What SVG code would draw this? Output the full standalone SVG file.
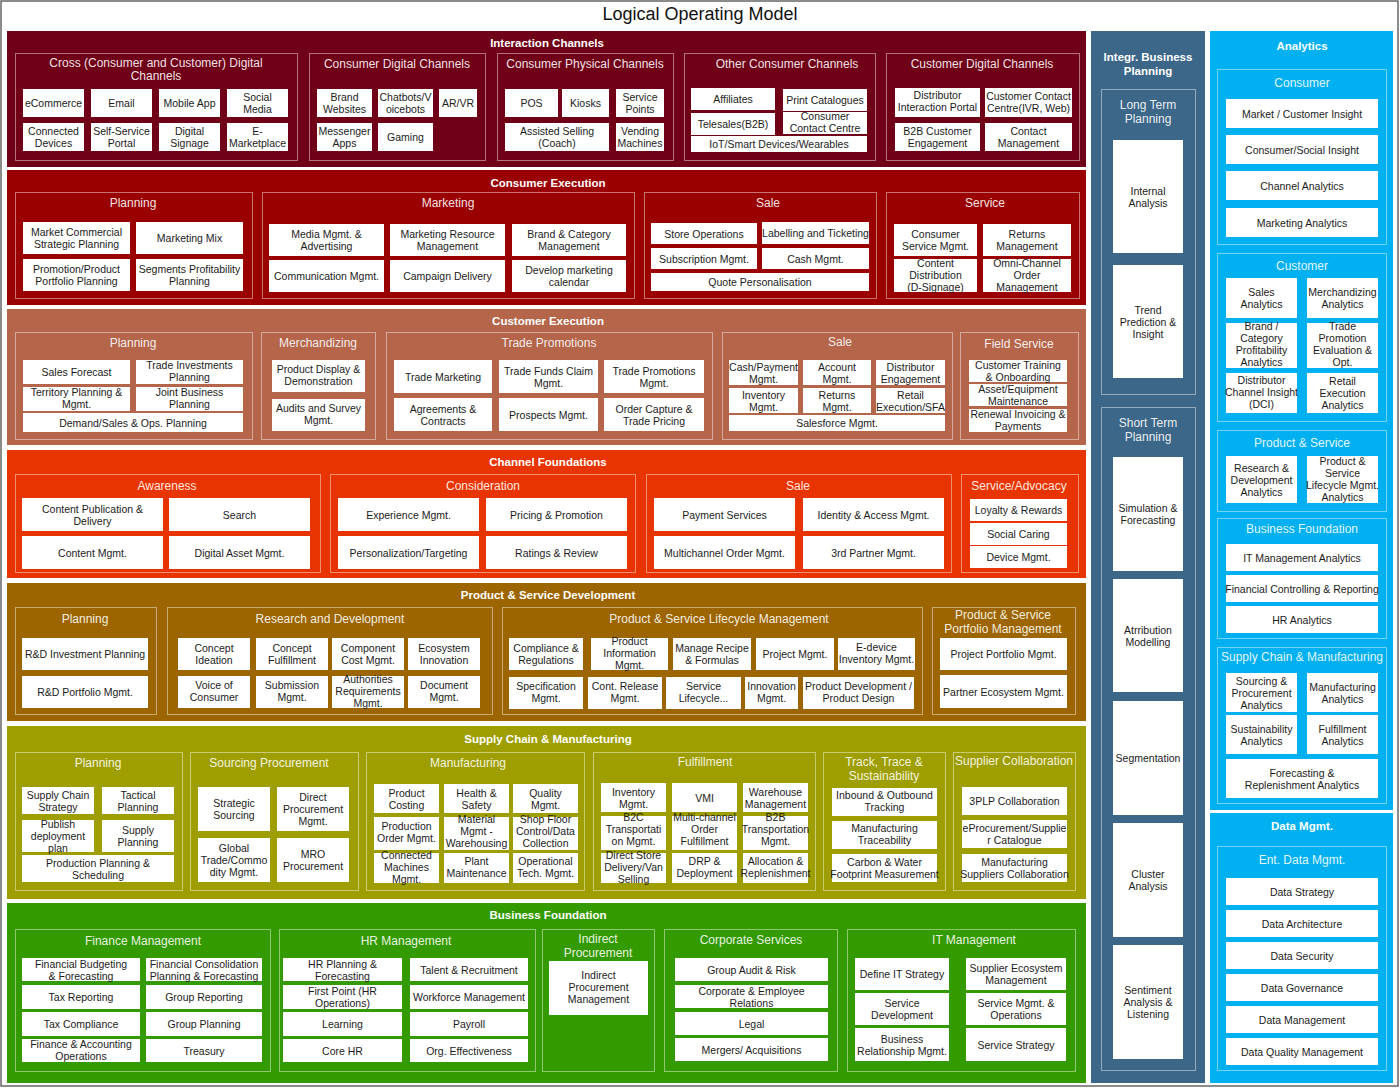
<svg xmlns="http://www.w3.org/2000/svg" width="1400" height="1088" viewBox="0 0 1400 1088">
<style>
text{font-family:"Liberation Sans",Arial,Helvetica,sans-serif}
.w{fill:#fff}
.t{font-size:10.5px;fill:#1b1b1b;text-anchor:middle}
.s{font-size:12px;fill:#fff;fill-opacity:.9;text-anchor:middle}
.b{font-size:11.5px;font-weight:bold;fill:#fff;text-anchor:middle}
.f{fill:none;stroke:#fff;stroke-opacity:.45;stroke-width:1}
</style>
<rect x="0" y="0" width="1400" height="1088" fill="#fff"/>
<rect x="1" y="1" width="1397" height="1085" fill="none" stroke="#666" stroke-width="1.5"/>
<text x="700" y="20" style="font-size:18px;fill:#111;text-anchor:middle">Logical Operating Model</text>
<g id="connectors"/>

<g id="interaction-channels">
<rect x="7" y="31" width="1079" height="136" fill="#700017"/>
<text class="b" x="547" y="47">Interaction Channels</text>
<g id="cross-digital"><rect class="f" x="15.5" y="53.5" width="282" height="107"/><text class="s" x="156" y="67">Cross (Consumer and Customer) Digital<tspan x="156" dy="13">Channels</tspan></text>
<g id="ecommerce"><rect class="w" x="23" y="89" width="61" height="28"/><text class="t" x="53.5" y="107">eCommerce</text></g>
<g id="email"><rect class="w" x="91" y="89" width="61" height="28"/><text class="t" x="121.5" y="107">Email</text></g>
<g id="mobile-app"><rect class="w" x="159" y="89" width="61" height="28"/><text class="t" x="189.5" y="107">Mobile App</text></g>
<g id="social-media"><rect class="w" x="227" y="89" width="61" height="28"/><text class="t" x="257.5" y="101">Social<tspan x="257.5" dy="12">Media</tspan></text></g>
<g id="connected-devices"><rect class="w" x="23" y="123" width="61" height="28"/><text class="t" x="53.5" y="135">Connected<tspan x="53.5" dy="12">Devices</tspan></text></g>
<g id="self-service"><rect class="w" x="91" y="123" width="61" height="28"/><text class="t" x="121.5" y="135">Self-Service<tspan x="121.5" dy="12">Portal</tspan></text></g>
<g id="digital-signage"><rect class="w" x="159" y="123" width="61" height="28"/><text class="t" x="189.5" y="135">Digital<tspan x="189.5" dy="12">Signage</tspan></text></g>
<g id="e-marketplace"><rect class="w" x="227" y="123" width="61" height="28"/><text class="t" x="257.5" y="135">E-<tspan x="257.5" dy="12">Marketplace</tspan></text></g>
</g>
<g id="consumer-digital"><rect class="f" x="309.5" y="53.5" width="176" height="107"/><text class="s" x="397" y="68">Consumer Digital Channels</text>
<g id="brand-websites"><rect class="w" x="317" y="89" width="55" height="28"/><text class="t" x="344.5" y="101">Brand<tspan x="344.5" dy="12">Websites</tspan></text></g>
<g id="chatbots"><rect class="w" x="378" y="89" width="55" height="28"/><text class="t" x="405.5" y="101">Chatbots/V<tspan x="405.5" dy="12">oicebots</tspan></text></g>
<g id="arvr"><rect class="w" x="439" y="89" width="38" height="28"/><text class="t" x="458" y="107">AR/VR</text></g>
<g id="messenger"><rect class="w" x="317" y="123" width="55" height="28"/><text class="t" x="344.5" y="135">Messenger<tspan x="344.5" dy="12">Apps</tspan></text></g>
<g id="gaming"><rect class="w" x="378" y="123" width="55" height="28"/><text class="t" x="405.5" y="141">Gaming</text></g>
</g>
<g id="consumer-physical"><rect class="f" x="497.5" y="53.5" width="176" height="107"/><text class="s" x="585" y="68">Consumer Physical Channels</text>
<g id="pos"><rect class="w" x="505" y="89" width="53" height="28"/><text class="t" x="531.5" y="107">POS</text></g>
<g id="kiosks"><rect class="w" x="562" y="89" width="47" height="28"/><text class="t" x="585.5" y="107">Kiosks</text></g>
<g id="service-points"><rect class="w" x="616" y="89" width="48" height="28"/><text class="t" x="640" y="101">Service<tspan x="640" dy="12">Points</tspan></text></g>
<g id="assisted-selling"><rect class="w" x="505" y="123" width="104" height="28"/><text class="t" x="557" y="135">Assisted Selling<tspan x="557" dy="12">(Coach)</tspan></text></g>
<g id="vending"><rect class="w" x="616" y="123" width="48" height="28"/><text class="t" x="640" y="135">Vending<tspan x="640" dy="12">Machines</tspan></text></g>
</g>
<g id="other-consumer"><rect class="f" x="684.5" y="53.5" width="191" height="107"/><text class="s" x="787" y="68">Other Consumer Channels</text>
<g id="affiliates"><rect class="w" x="691" y="88" width="84" height="22"/><text class="t" x="733" y="103">Affiliates</text></g>
<g id="print-catalogues"><rect class="w" x="783" y="89" width="84" height="22"/><text class="t" x="825" y="104">Print Catalogues</text></g>
<g id="telesales"><rect class="w" x="691" y="113" width="84" height="22"/><text class="t" x="733" y="128">Telesales(B2B)</text></g>
<g id="consumer-contact"><rect class="w" x="783" y="112" width="84" height="22"/><text class="t" x="825" y="120">Consumer<tspan x="825" dy="12">Contact Centre</tspan></text></g>
<g id="iot"><rect class="w" x="691" y="136" width="176" height="16"/><text class="t" x="779" y="147.5">IoT/Smart Devices/Wearables</text></g>
</g>
<g id="customer-digital"><rect class="f" x="886.5" y="53.5" width="193" height="107"/><text class="s" x="982" y="68">Customer Digital Channels</text>
<g id="distributor-portal"><rect class="w" x="895" y="88" width="85" height="29"/><text class="t" x="937.5" y="99">Distributor<tspan x="937.5" dy="12">Interaction Portal</tspan></text></g>
<g id="customer-contact"><rect class="w" x="985" y="88" width="87" height="29"/><text class="t" x="1028.5" y="100">Customer Contact<tspan x="1028.5" dy="12">Centre(IVR, Web)</tspan></text></g>
<g id="b2b-engagement"><rect class="w" x="895" y="123" width="85" height="28"/><text class="t" x="937.5" y="135">B2B Customer<tspan x="937.5" dy="12">Engagement</tspan></text></g>
<g id="contact-mgmt"><rect class="w" x="985" y="123" width="87" height="28"/><text class="t" x="1028.5" y="135">Contact<tspan x="1028.5" dy="12">Management</tspan></text></g>
</g>
</g>

<g id="consumer-execution">
<rect x="7" y="170" width="1079" height="135" fill="#9a0000"/>
<text class="b" x="548" y="187">Consumer Execution</text>
<g id="ce-planning"><rect class="f" x="15.5" y="192.5" width="237" height="106"/><text class="s" x="133" y="207">Planning</text>
<g id="mkt-commercial"><rect class="w" x="23" y="222" width="107" height="32"/><text class="t" x="76.5" y="236">Market Commercial<tspan x="76.5" dy="12">Strategic Planning</tspan></text></g>
<g id="mkt-mix"><rect class="w" x="136" y="222" width="107" height="32"/><text class="t" x="189.5" y="242">Marketing Mix</text></g>
<g id="promo-portfolio"><rect class="w" x="23" y="259" width="107" height="32"/><text class="t" x="76.5" y="273">Promotion/Product<tspan x="76.5" dy="12">Portfolio Planning</tspan></text></g>
<g id="segments"><rect class="w" x="136" y="259" width="107" height="32"/><text class="t" x="189.5" y="273">Segments Profitability<tspan x="189.5" dy="12">Planning</tspan></text></g>
</g>
<g id="ce-marketing"><rect class="f" x="262.5" y="192.5" width="372" height="106"/><text class="s" x="448" y="207">Marketing</text>
<g id="media-mgmt"><rect class="w" x="269" y="224" width="115" height="32"/><text class="t" x="326.5" y="238">Media Mgmt. &amp;<tspan x="326.5" dy="12">Advertising</tspan></text></g>
<g id="mkt-resource"><rect class="w" x="390" y="224" width="115" height="32"/><text class="t" x="447.5" y="238">Marketing Resource<tspan x="447.5" dy="12">Management</tspan></text></g>
<g id="brand-category"><rect class="w" x="512" y="224" width="114" height="32"/><text class="t" x="569" y="238">Brand &amp; Category<tspan x="569" dy="12">Management</tspan></text></g>
<g id="communication"><rect class="w" x="269" y="260" width="115" height="32"/><text class="t" x="326.5" y="280">Communication Mgmt.</text></g>
<g id="campaign"><rect class="w" x="390" y="260" width="115" height="32"/><text class="t" x="447.5" y="280">Campaign Delivery</text></g>
<g id="mkt-calendar"><rect class="w" x="512" y="260" width="114" height="32"/><text class="t" x="569" y="274">Develop marketing<tspan x="569" dy="12">calendar</tspan></text></g>
</g>
<g id="ce-sale"><rect class="f" x="644.5" y="192.5" width="232" height="106"/><text class="s" x="768" y="207">Sale</text>
<g id="store-ops"><rect class="w" x="651" y="223" width="106" height="21"/><text class="t" x="704" y="237.5">Store Operations</text></g>
<g id="labelling"><rect class="w" x="762" y="222" width="107" height="22"/><text class="t" x="815.5" y="236.5">Labelling and Ticketing</text></g>
<g id="subscription"><rect class="w" x="651" y="248" width="106" height="21"/><text class="t" x="704" y="262.5">Subscription Mgmt.</text></g>
<g id="cash-mgmt"><rect class="w" x="762" y="248" width="107" height="21"/><text class="t" x="815.5" y="262.5">Cash Mgmt.</text></g>
<g id="quote"><rect class="w" x="651" y="273" width="218" height="18"/><text class="t" x="760" y="286">Quote Personalisation</text></g>
</g>
<g id="ce-service"><rect class="f" x="886.5" y="192.5" width="193" height="106"/><text class="s" x="985" y="207">Service</text>
<g id="consumer-service"><rect class="w" x="894" y="224" width="83" height="32"/><text class="t" x="935.5" y="238">Consumer<tspan x="935.5" dy="12">Service Mgmt.</tspan></text></g>
<g id="returns-mgmt"><rect class="w" x="983" y="224" width="88" height="32"/><text class="t" x="1027" y="238">Returns<tspan x="1027" dy="12">Management</tspan></text></g>
<g id="content-distribution"><rect class="w" x="894" y="259" width="83" height="33"/><text class="t" x="935.5" y="267">Content<tspan x="935.5" dy="12">Distribution</tspan><tspan x="935.5" dy="12">(D-Signage)</tspan></text></g>
<g id="omni-channel"><rect class="w" x="983" y="259" width="88" height="33"/><text class="t" x="1027" y="267">Omni-Channel<tspan x="1027" dy="12">Order</tspan><tspan x="1027" dy="12">Management</tspan></text></g>
</g>
</g>

<g id="customer-execution">
<rect x="7" y="309" width="1079" height="136" fill="#b5654a"/>
<text class="b" x="548" y="325">Customer Execution</text>
<g id="cu-planning"><rect class="f" x="15.5" y="332.5" width="237" height="107"/><text class="s" x="133" y="347">Planning</text>
<g id="sales-forecast"><rect class="w" x="23" y="360" width="107" height="24"/><text class="t" x="76.5" y="376">Sales Forecast</text></g>
<g id="trade-invest"><rect class="w" x="136" y="360" width="107" height="24"/><text class="t" x="189.5" y="369">Trade Investments<tspan x="189.5" dy="12">Planning</tspan></text></g>
<g id="territory"><rect class="w" x="23" y="387" width="107" height="24"/><text class="t" x="76.5" y="396">Territory Planning &amp;<tspan x="76.5" dy="12">Mgmt.</tspan></text></g>
<g id="joint-business"><rect class="w" x="136" y="387" width="107" height="24"/><text class="t" x="189.5" y="396">Joint Business<tspan x="189.5" dy="12">Planning</tspan></text></g>
<g id="demand-sales"><rect class="w" x="23" y="413" width="220" height="19"/><text class="t" x="133" y="426.5">Demand/Sales &amp; Ops. Planning</text></g>
</g>
<g id="cu-merch"><rect class="f" x="261.5" y="332.5" width="114" height="107"/><text class="s" x="318" y="347">Merchandizing</text>
<g id="product-display"><rect class="w" x="272" y="360" width="93" height="32"/><text class="t" x="318.5" y="373">Product Display &amp;<tspan x="318.5" dy="12">Demonstration</tspan></text></g>
<g id="audits"><rect class="w" x="272" y="399" width="93" height="32"/><text class="t" x="318.5" y="412">Audits and Survey<tspan x="318.5" dy="12">Mgmt.</tspan></text></g>
</g>
<g id="cu-trade"><rect class="f" x="386.5" y="332.5" width="326" height="107"/><text class="s" x="549" y="347">Trade Promotions</text>
<g id="trade-marketing"><rect class="w" x="394" y="360" width="98" height="33"/><text class="t" x="443" y="380.5">Trade Marketing</text></g>
<g id="trade-funds"><rect class="w" x="499" y="360" width="99" height="33"/><text class="t" x="548.5" y="374.5">Trade Funds Claim<tspan x="548.5" dy="12">Mgmt.</tspan></text></g>
<g id="trade-promos"><rect class="w" x="604" y="360" width="100" height="33"/><text class="t" x="654" y="374.5">Trade Promotions<tspan x="654" dy="12">Mgmt.</tspan></text></g>
<g id="agreements"><rect class="w" x="394" y="398" width="98" height="33"/><text class="t" x="443" y="412.5">Agreements &amp;<tspan x="443" dy="12">Contracts</tspan></text></g>
<g id="prospects"><rect class="w" x="499" y="398" width="99" height="33"/><text class="t" x="548.5" y="418.5">Prospects Mgmt.</text></g>
<g id="order-capture"><rect class="w" x="604" y="398" width="100" height="33"/><text class="t" x="654" y="412.5">Order Capture &amp;<tspan x="654" dy="12">Trade Pricing</tspan></text></g>
</g>
<g id="cu-sale"><rect class="f" x="722.5" y="332.5" width="230" height="107"/><text class="s" x="840" y="346">Sale</text>
<g id="cash-payment"><rect class="w" x="729" y="360" width="69" height="25"/><text class="t" x="763.5" y="370.5">Cash/Payment<tspan x="763.5" dy="12">Mgmt.</tspan></text></g>
<g id="account-mgmt"><rect class="w" x="803" y="360" width="68" height="25"/><text class="t" x="837" y="370.5">Account<tspan x="837" dy="12">Mgmt.</tspan></text></g>
<g id="distributor-eng"><rect class="w" x="876" y="360" width="69" height="25"/><text class="t" x="910.5" y="370.5">Distributor<tspan x="910.5" dy="12">Engagement</tspan></text></g>
<g id="inventory-cu"><rect class="w" x="729" y="388" width="69" height="25"/><text class="t" x="763.5" y="399">Inventory<tspan x="763.5" dy="12">Mgmt.</tspan></text></g>
<g id="returns-cu"><rect class="w" x="803" y="388" width="68" height="25"/><text class="t" x="837" y="399">Returns<tspan x="837" dy="12">Mgmt.</tspan></text></g>
<g id="retail-exec"><rect class="w" x="876" y="388" width="69" height="25"/><text class="t" x="910.5" y="399">Retail<tspan x="910.5" dy="12">Execution/SFA</tspan></text></g>
<g id="salesforce"><rect class="w" x="729" y="415" width="216" height="16"/><text class="t" x="837" y="427">Salesforce Mgmt.</text></g>
</g>
<g id="cu-field"><rect class="f" x="960.5" y="332.5" width="118" height="107"/><text class="s" x="1019" y="348">Field Service</text>
<g id="training"><rect class="w" x="969" y="360" width="98" height="22"/><text class="t" x="1018" y="369">Customer Training<tspan x="1018" dy="12">&amp; Onboarding</tspan></text></g>
<g id="asset-maint"><rect class="w" x="969" y="384" width="98" height="22"/><text class="t" x="1018" y="393">Asset/Equipment<tspan x="1018" dy="12">Maintenance</tspan></text></g>
<g id="renewal"><rect class="w" x="969" y="409" width="98" height="23"/><text class="t" x="1018" y="418">Renewal Invoicing &amp;<tspan x="1018" dy="12">Payments</tspan></text></g>
</g>
</g>

<g id="channel-foundations">
<rect x="7" y="450" width="1079" height="128" fill="#e83400"/>
<text class="b" x="548" y="466">Channel Foundations</text>
<g id="cf-awareness"><rect class="f" x="15.5" y="474.5" width="305" height="98"/><text class="s" x="167" y="490">Awareness</text>
<g id="content-pub"><rect class="w" x="22" y="498" width="141" height="33"/><text class="t" x="92.5" y="512.5">Content Publication &amp;<tspan x="92.5" dy="12">Delivery</tspan></text></g>
<g id="search"><rect class="w" x="169" y="498" width="141" height="33"/><text class="t" x="239.5" y="518.5">Search</text></g>
<g id="content-mgmt"><rect class="w" x="22" y="536" width="141" height="33"/><text class="t" x="92.5" y="556.5">Content Mgmt.</text></g>
<g id="digital-asset"><rect class="w" x="169" y="536" width="141" height="33"/><text class="t" x="239.5" y="556.5">Digital Asset Mgmt.</text></g>
</g>
<g id="cf-consideration"><rect class="f" x="330.5" y="474.5" width="305" height="98"/><text class="s" x="483" y="490">Consideration</text>
<g id="experience"><rect class="w" x="338" y="498" width="141" height="33"/><text class="t" x="408.5" y="518.5">Experience Mgmt.</text></g>
<g id="pricing-promo"><rect class="w" x="486" y="498" width="141" height="33"/><text class="t" x="556.5" y="518.5">Pricing &amp; Promotion</text></g>
<g id="personalization"><rect class="w" x="338" y="536" width="141" height="33"/><text class="t" x="408.5" y="556.5">Personalization/Targeting</text></g>
<g id="ratings"><rect class="w" x="486" y="536" width="141" height="33"/><text class="t" x="556.5" y="556.5">Ratings &amp; Review</text></g>
</g>
<g id="cf-sale"><rect class="f" x="646.5" y="474.5" width="305" height="98"/><text class="s" x="798" y="490">Sale</text>
<g id="payment-services"><rect class="w" x="654" y="498" width="141" height="33"/><text class="t" x="724.5" y="518.5">Payment Services</text></g>
<g id="identity"><rect class="w" x="803" y="498" width="141" height="33"/><text class="t" x="873.5" y="518.5">Identity &amp; Access Mgmt.</text></g>
<g id="multichannel-order"><rect class="w" x="654" y="536" width="141" height="33"/><text class="t" x="724.5" y="556.5">Multichannel Order Mgmt.</text></g>
<g id="third-partner"><rect class="w" x="803" y="536" width="141" height="33"/><text class="t" x="873.5" y="556.5">3rd Partner Mgmt.</text></g>
</g>
<g id="cf-service"><rect class="f" x="961.5" y="474.5" width="117" height="98"/><text class="s" x="1019" y="490">Service/Advocacy</text>
<g id="loyalty"><rect class="w" x="970" y="499" width="97" height="22"/><text class="t" x="1018.5" y="514">Loyalty &amp; Rewards</text></g>
<g id="social-caring"><rect class="w" x="970" y="523" width="97" height="22"/><text class="t" x="1018.5" y="538">Social Caring</text></g>
<g id="device-mgmt"><rect class="w" x="970" y="546" width="97" height="22"/><text class="t" x="1018.5" y="561">Device Mgmt.</text></g>
</g>
</g>

<g id="product-service-dev">
<rect x="7" y="583" width="1079" height="138" fill="#9c6500"/>
<text class="b" x="548" y="599">Product &amp; Service Development</text>
<g id="pd-planning"><rect class="f" x="15.5" y="607.5" width="141" height="107"/><text class="s" x="85" y="623">Planning</text>
<g id="rd-invest"><rect class="w" x="22" y="638" width="126" height="32"/><text class="t" x="85" y="658">R&amp;D Investment Planning</text></g>
<g id="rd-portfolio"><rect class="w" x="22" y="676" width="126" height="32"/><text class="t" x="85" y="696">R&amp;D Portfolio Mgmt.</text></g>
</g>
<g id="pd-rd"><rect class="f" x="167.5" y="607.5" width="325" height="107"/><text class="s" x="330" y="623">Research and Development</text>
<g id="concept-ideation"><rect class="w" x="178" y="638" width="72" height="32"/><text class="t" x="214" y="652">Concept<tspan x="214" dy="12">Ideation</tspan></text></g>
<g id="concept-fulfill"><rect class="w" x="256" y="638" width="72" height="32"/><text class="t" x="292" y="652">Concept<tspan x="292" dy="12">Fulfillment</tspan></text></g>
<g id="component-cost"><rect class="w" x="332" y="638" width="72" height="32"/><text class="t" x="368" y="652">Component<tspan x="368" dy="12">Cost Mgmt.</tspan></text></g>
<g id="ecosystem-innov"><rect class="w" x="408" y="638" width="72" height="32"/><text class="t" x="444" y="652">Ecosystem<tspan x="444" dy="12">Innovation</tspan></text></g>
<g id="voice-consumer"><rect class="w" x="178" y="676" width="72" height="32"/><text class="t" x="214" y="689">Voice of<tspan x="214" dy="12">Consumer</tspan></text></g>
<g id="submission"><rect class="w" x="256" y="676" width="72" height="32"/><text class="t" x="292" y="689">Submission<tspan x="292" dy="12">Mgmt.</tspan></text></g>
<g id="authorities"><rect class="w" x="332" y="676" width="72" height="32"/><text class="t" x="368" y="683">Authorities<tspan x="368" dy="12">Requirements</tspan><tspan x="368" dy="12">Mgmt.</tspan></text></g>
<g id="document"><rect class="w" x="408" y="676" width="72" height="32"/><text class="t" x="444" y="689">Document<tspan x="444" dy="12">Mgmt.</tspan></text></g>
</g>
<g id="pd-lifecycle"><rect class="f" x="502.5" y="607.5" width="420" height="107"/><text class="s" x="719" y="623">Product &amp; Service Lifecycle Management</text>
<g id="compliance"><rect class="w" x="509" y="638" width="74" height="32"/><text class="t" x="546" y="652">Compliance &amp;<tspan x="546" dy="12">Regulations</tspan></text></g>
<g id="product-info"><rect class="w" x="591" y="638" width="77" height="32"/><text class="t" x="629.5" y="645">Product<tspan x="629.5" dy="12">Information</tspan><tspan x="629.5" dy="12">Mgmt.</tspan></text></g>
<g id="recipe"><rect class="w" x="673" y="638" width="78" height="32"/><text class="t" x="712" y="652">Manage Recipe<tspan x="712" dy="12">&amp; Formulas</tspan></text></g>
<g id="project-mgmt"><rect class="w" x="756" y="638" width="78" height="32"/><text class="t" x="795" y="658">Project Mgmt.</text></g>
<g id="e-device"><rect class="w" x="838" y="638" width="77" height="32"/><text class="t" x="876.5" y="651">E-device<tspan x="876.5" dy="12">Inventory Mgmt.</tspan></text></g>
<g id="specification"><rect class="w" x="509" y="677" width="74" height="32"/><text class="t" x="546" y="690">Specification<tspan x="546" dy="12">Mgmt.</tspan></text></g>
<g id="cont-release"><rect class="w" x="588" y="677" width="74" height="32"/><text class="t" x="625" y="690">Cont. Release<tspan x="625" dy="12">Mgmt.</tspan></text></g>
<g id="service-lifecycle"><rect class="w" x="666" y="677" width="75" height="32"/><text class="t" x="703.5" y="690">Service<tspan x="703.5" dy="12">Lifecycle...</tspan></text></g>
<g id="innovation"><rect class="w" x="745" y="677" width="53" height="32"/><text class="t" x="771.5" y="690">Innovation<tspan x="771.5" dy="12">Mgmt.</tspan></text></g>
<g id="product-dev"><rect class="w" x="803" y="677" width="111" height="32"/><text class="t" x="858.5" y="690">Product Development /<tspan x="858.5" dy="12">Product Design</tspan></text></g>
</g>
<g id="pd-portfolio"><rect class="f" x="932.5" y="607.5" width="143" height="107"/><text class="s" x="1003" y="619">Product &amp; Service<tspan x="1003" dy="14">Portfolio Management</tspan></text>
<g id="project-portfolio"><rect class="w" x="940" y="638" width="127" height="32"/><text class="t" x="1003.5" y="658">Project Portfolio Mgmt.</text></g>
<g id="partner-ecosystem"><rect class="w" x="940" y="675" width="127" height="33"/><text class="t" x="1003.5" y="695.5">Partner Ecosystem Mgmt.</text></g>
</g>
</g>

<g id="supply-chain">
<rect x="7" y="726" width="1079" height="173" fill="#9e9e00"/>
<text class="b" x="548" y="743">Supply Chain &amp; Manufacturing</text>
<g id="sc-planning"><rect class="f" x="15.5" y="752.5" width="167" height="138"/><text class="s" x="98" y="767">Planning</text>
<g id="sc-strategy"><rect class="w" x="22" y="787" width="72" height="27"/><text class="t" x="58" y="798.5">Supply Chain<tspan x="58" dy="12">Strategy</tspan></text></g>
<g id="tactical"><rect class="w" x="102" y="787" width="72" height="27"/><text class="t" x="138" y="798.5">Tactical<tspan x="138" dy="12">Planning</tspan></text></g>
<g id="publish"><rect class="w" x="22" y="820" width="72" height="32"/><text class="t" x="58" y="828">Publish<tspan x="58" dy="12">deployment</tspan><tspan x="58" dy="12">plan</tspan></text></g>
<g id="supply-planning"><rect class="w" x="102" y="820" width="72" height="32"/><text class="t" x="138" y="834">Supply<tspan x="138" dy="12">Planning</tspan></text></g>
<g id="production-planning"><rect class="w" x="22" y="855" width="152" height="27"/><text class="t" x="98" y="866.5">Production Planning &amp;<tspan x="98" dy="12">Scheduling</tspan></text></g>
</g>
<g id="sc-sourcing"><rect class="f" x="190.5" y="752.5" width="168" height="138"/><text class="s" x="269" y="767">Sourcing Procurement</text>
<g id="strategic-sourcing"><rect class="w" x="198" y="787" width="72" height="44"/><text class="t" x="234" y="807">Strategic<tspan x="234" dy="12">Sourcing</tspan></text></g>
<g id="direct-procurement"><rect class="w" x="277" y="787" width="72" height="44"/><text class="t" x="313" y="801">Direct<tspan x="313" dy="12">Procurement</tspan><tspan x="313" dy="12">Mgmt.</tspan></text></g>
<g id="global-trade"><rect class="w" x="198" y="838" width="72" height="44"/><text class="t" x="234" y="852">Global<tspan x="234" dy="12">Trade/Commo</tspan><tspan x="234" dy="12">dity Mgmt.</tspan></text></g>
<g id="mro"><rect class="w" x="277" y="838" width="72" height="44"/><text class="t" x="313" y="858">MRO<tspan x="313" dy="12">Procurement</tspan></text></g>
</g>
<g id="sc-manufacturing"><rect class="f" x="366.5" y="752.5" width="218" height="138"/><text class="s" x="468" y="767">Manufacturing</text>
<g id="product-costing"><rect class="w" x="374" y="784" width="65" height="29"/><text class="t" x="406.5" y="796.5">Product<tspan x="406.5" dy="12">Costing</tspan></text></g>
<g id="health-safety"><rect class="w" x="444" y="784" width="65" height="29"/><text class="t" x="476.5" y="796.5">Health &amp;<tspan x="476.5" dy="12">Safety</tspan></text></g>
<g id="quality"><rect class="w" x="513" y="784" width="65" height="29"/><text class="t" x="545.5" y="796.5">Quality<tspan x="545.5" dy="12">Mgmt.</tspan></text></g>
<g id="production-order"><rect class="w" x="374" y="817" width="65" height="33"/><text class="t" x="406.5" y="830">Production<tspan x="406.5" dy="12">Order Mgmt.</tspan></text></g>
<g id="material-mgmt"><rect class="w" x="444" y="817" width="65" height="33"/><text class="t" x="476.5" y="823">Material<tspan x="476.5" dy="12">Mgmt -</tspan><tspan x="476.5" dy="12">Warehousing</tspan></text></g>
<g id="shop-floor"><rect class="w" x="513" y="817" width="65" height="33"/><text class="t" x="545.5" y="823">Shop Floor<tspan x="545.5" dy="12">Control/Data</tspan><tspan x="545.5" dy="12">Collection</tspan></text></g>
<g id="connected-machines"><rect class="w" x="374" y="853" width="65" height="30"/><text class="t" x="406.5" y="859">Connected<tspan x="406.5" dy="12">Machines</tspan><tspan x="406.5" dy="12">Mgmt.</tspan></text></g>
<g id="plant-maint"><rect class="w" x="444" y="853" width="65" height="30"/><text class="t" x="476.5" y="865">Plant<tspan x="476.5" dy="12">Maintenance</tspan></text></g>
<g id="operational-tech"><rect class="w" x="513" y="853" width="65" height="30"/><text class="t" x="545.5" y="865">Operational<tspan x="545.5" dy="12">Tech. Mgmt.</tspan></text></g>
</g>
<g id="sc-fulfillment"><rect class="f" x="593.5" y="752.5" width="222" height="138"/><text class="s" x="705" y="766">Fulfillment</text>
<g id="inventory-sc"><rect class="w" x="601" y="783" width="65" height="29"/><text class="t" x="633.5" y="795.5">Inventory<tspan x="633.5" dy="12">Mgmt.</tspan></text></g>
<g id="vmi"><rect class="w" x="672" y="783" width="65" height="29"/><text class="t" x="704.5" y="801.5">VMI</text></g>
<g id="warehouse"><rect class="w" x="743" y="783" width="65" height="29"/><text class="t" x="775.5" y="795.5">Warehouse<tspan x="775.5" dy="12">Management</tspan></text></g>
<g id="b2c-transport"><rect class="w" x="601" y="816" width="65" height="34"/><text class="t" x="633.5" y="821">B2C<tspan x="633.5" dy="12">Transportati</tspan><tspan x="633.5" dy="12">on Mgmt.</tspan></text></g>
<g id="multichannel-fulfill"><rect class="w" x="672" y="816" width="65" height="34"/><text class="t" x="704.5" y="821">Multi-channel<tspan x="704.5" dy="12">Order</tspan><tspan x="704.5" dy="12">Fulfillment</tspan></text></g>
<g id="b2b-transport"><rect class="w" x="743" y="816" width="65" height="34"/><text class="t" x="775.5" y="821">B2B<tspan x="775.5" dy="12">Transportation</tspan><tspan x="775.5" dy="12">Mgmt.</tspan></text></g>
<g id="direct-store"><rect class="w" x="601" y="853" width="65" height="30"/><text class="t" x="633.5" y="859">Direct Store<tspan x="633.5" dy="12">Delivery/Van</tspan><tspan x="633.5" dy="12">Selling</tspan></text></g>
<g id="drp"><rect class="w" x="672" y="853" width="65" height="30"/><text class="t" x="704.5" y="865">DRP &amp;<tspan x="704.5" dy="12">Deployment</tspan></text></g>
<g id="allocation"><rect class="w" x="743" y="853" width="65" height="30"/><text class="t" x="775.5" y="865">Allocation &amp;<tspan x="775.5" dy="12">Replenishment</tspan></text></g>
</g>
<g id="sc-track"><rect class="f" x="823.5" y="752.5" width="122" height="138"/><text class="s" x="884" y="766">Track, Trace &amp;<tspan x="884" dy="14">Sustainability</tspan></text>
<g id="inbound-outbound"><rect class="w" x="832" y="788" width="105" height="28"/><text class="t" x="884.5" y="799">Inbound &amp; Outbound<tspan x="884.5" dy="12">Tracking</tspan></text></g>
<g id="mfg-trace"><rect class="w" x="832" y="821" width="105" height="28"/><text class="t" x="884.5" y="832">Manufacturing<tspan x="884.5" dy="12">Traceability</tspan></text></g>
<g id="carbon-water"><rect class="w" x="832" y="854" width="105" height="28"/><text class="t" x="884.5" y="866">Carbon &amp; Water<tspan x="884.5" dy="12">Footprint Measurement</tspan></text></g>
</g>
<g id="sc-supplier"><rect class="f" x="953.5" y="752.5" width="122" height="138"/><text class="s" x="1014" y="765">Supplier Collaboration</text>
<g id="3plp"><rect class="w" x="962" y="787" width="105" height="28"/><text class="t" x="1014.5" y="805">3PLP Collaboration</text></g>
<g id="eprocurement"><rect class="w" x="962" y="820" width="105" height="28"/><text class="t" x="1014.5" y="832">eProcurement/Supplie<tspan x="1014.5" dy="12">r Catalogue</tspan></text></g>
<g id="mfg-suppliers"><rect class="w" x="962" y="854" width="105" height="28"/><text class="t" x="1014.5" y="866">Manufacturing<tspan x="1014.5" dy="12">Suppliers Collaboration</tspan></text></g>
</g>
</g>

<g id="business-foundation">
<rect x="7" y="903" width="1079" height="180" fill="#339a00"/>
<text class="b" x="548" y="919">Business Foundation</text>
<g id="bf-finance"><rect class="f" x="15.5" y="929.5" width="255" height="142"/><text class="s" x="143" y="945">Finance Management</text>
<g id="fin-budget"><rect class="w" x="22" y="958" width="118" height="23"/><text class="t" x="81" y="967.5">Financial Budgeting<tspan x="81" dy="12">&amp; Forecasting</tspan></text></g>
<g id="fin-consol"><rect class="w" x="146" y="958" width="116" height="23"/><text class="t" x="204" y="967.5">Financial Consolidation<tspan x="204" dy="12">Planning &amp; Forecasting</tspan></text></g>
<g id="tax-reporting"><rect class="w" x="22" y="985" width="118" height="24"/><text class="t" x="81" y="1001">Tax Reporting</text></g>
<g id="group-reporting"><rect class="w" x="146" y="985" width="116" height="24"/><text class="t" x="204" y="1001">Group Reporting</text></g>
<g id="tax-compliance"><rect class="w" x="22" y="1012" width="118" height="24"/><text class="t" x="81" y="1028">Tax Compliance</text></g>
<g id="group-planning"><rect class="w" x="146" y="1012" width="116" height="24"/><text class="t" x="204" y="1028">Group Planning</text></g>
<g id="fin-accounting"><rect class="w" x="22" y="1039" width="118" height="23"/><text class="t" x="81" y="1047.5">Finance &amp; Accounting<tspan x="81" dy="12">Operations</tspan></text></g>
<g id="treasury"><rect class="w" x="146" y="1039" width="116" height="23"/><text class="t" x="204" y="1054.5">Treasury</text></g>
</g>
<g id="bf-hr"><rect class="f" x="279.5" y="929.5" width="256" height="142"/><text class="s" x="406" y="945">HR Management</text>
<g id="hr-planning"><rect class="w" x="283" y="958" width="119" height="23"/><text class="t" x="342.5" y="967.5">HR Planning &amp;<tspan x="342.5" dy="12">Forecasting</tspan></text></g>
<g id="talent"><rect class="w" x="410" y="958" width="118" height="23"/><text class="t" x="469" y="973.5">Talent &amp; Recruitment</text></g>
<g id="first-point"><rect class="w" x="283" y="985" width="119" height="24"/><text class="t" x="342.5" y="995">First Point (HR<tspan x="342.5" dy="12">Operations)</tspan></text></g>
<g id="workforce"><rect class="w" x="410" y="985" width="118" height="24"/><text class="t" x="469" y="1001">Workforce Management</text></g>
<g id="learning"><rect class="w" x="283" y="1012" width="119" height="24"/><text class="t" x="342.5" y="1028">Learning</text></g>
<g id="payroll"><rect class="w" x="410" y="1012" width="118" height="24"/><text class="t" x="469" y="1028">Payroll</text></g>
<g id="core-hr"><rect class="w" x="283" y="1039" width="119" height="23"/><text class="t" x="342.5" y="1054.5">Core HR</text></g>
<g id="org-effect"><rect class="w" x="410" y="1039" width="118" height="23"/><text class="t" x="469" y="1054.5">Org. Effectiveness</text></g>
</g>
<g id="bf-indirect"><rect class="f" x="542.5" y="929.5" width="112" height="142"/><text class="s" x="598" y="943">Indirect<tspan x="598" dy="14">Procurement</tspan></text>
<g id="indirect-mgmt"><rect class="w" x="549" y="961" width="99" height="54"/><text class="t" x="598.5" y="979">Indirect<tspan x="598.5" dy="12">Procurement</tspan><tspan x="598.5" dy="12">Management</tspan></text></g>
</g>
<g id="bf-corporate"><rect class="f" x="664.5" y="929.5" width="173" height="142"/><text class="s" x="751" y="944">Corporate Services</text>
<g id="group-audit"><rect class="w" x="675" y="958" width="153" height="23"/><text class="t" x="751.5" y="973.5">Group Audit &amp; Risk</text></g>
<g id="corp-relations"><rect class="w" x="675" y="985" width="153" height="23"/><text class="t" x="751.5" y="994.5">Corporate &amp; Employee<tspan x="751.5" dy="12">Relations</tspan></text></g>
<g id="legal"><rect class="w" x="675" y="1012" width="153" height="23"/><text class="t" x="751.5" y="1027.5">Legal</text></g>
<g id="mergers"><rect class="w" x="675" y="1038" width="153" height="23"/><text class="t" x="751.5" y="1053.5">Mergers/ Acquisitions</text></g>
</g>
<g id="bf-it"><rect class="f" x="847.5" y="929.5" width="228" height="142"/><text class="s" x="974" y="944">IT Management</text>
<g id="it-strategy"><rect class="w" x="855" y="958" width="94" height="32"/><text class="t" x="902" y="978">Define IT Strategy</text></g>
<g id="supplier-eco"><rect class="w" x="966" y="958" width="100" height="32"/><text class="t" x="1016" y="972">Supplier Ecosystem<tspan x="1016" dy="12">Management</tspan></text></g>
<g id="service-dev"><rect class="w" x="855" y="993" width="94" height="32"/><text class="t" x="902" y="1007">Service<tspan x="902" dy="12">Development</tspan></text></g>
<g id="service-ops"><rect class="w" x="966" y="993" width="100" height="32"/><text class="t" x="1016" y="1007">Service Mgmt. &amp;<tspan x="1016" dy="12">Operations</tspan></text></g>
<g id="brm"><rect class="w" x="855" y="1028" width="94" height="33"/><text class="t" x="902" y="1042.5">Business<tspan x="902" dy="12">Relationship Mgmt.</tspan></text></g>
<g id="service-strategy"><rect class="w" x="966" y="1028" width="100" height="33"/><text class="t" x="1016" y="1048.5">Service Strategy</text></g>
</g>
</g>

<g id="integr-business-planning">
<rect x="1091" y="31" width="114" height="1052" fill="#3c6789"/>
<text class="b" x="1148" y="61">Integr. Business<tspan x="1148" dy="14">Planning</tspan></text>
<g id="long-term"><rect class="f" x="1101.5" y="89.5" width="94" height="305"/><text class="s" x="1148" y="109">Long Term<tspan x="1148" dy="14">Planning</tspan></text>
<g id="internal-analysis"><rect class="w" x="1113" y="140" width="70" height="113"/><text class="t" x="1148" y="194.5">Internal<tspan x="1148" dy="12">Analysis</tspan></text></g>
<g id="trend-prediction"><rect class="w" x="1113" y="265" width="70" height="113"/><text class="t" x="1148" y="313.5">Trend<tspan x="1148" dy="12">Prediction &amp;</tspan><tspan x="1148" dy="12">Insight</tspan></text></g>
</g>
<g id="short-term"><rect class="f" x="1101.5" y="407.5" width="94" height="663"/><text class="s" x="1148" y="427">Short Term<tspan x="1148" dy="14">Planning</tspan></text>
<g id="simulation"><rect class="w" x="1113" y="457" width="70" height="114"/><text class="t" x="1148" y="512">Simulation &amp;<tspan x="1148" dy="12">Forecasting</tspan></text></g>
<g id="attribution"><rect class="w" x="1113" y="579" width="70" height="113"/><text class="t" x="1148" y="633.5">Atrribution<tspan x="1148" dy="12">Modelling</tspan></text></g>
<g id="segmentation"><rect class="w" x="1113" y="701" width="70" height="114"/><text class="t" x="1148" y="762">Segmentation</text></g>
<g id="cluster"><rect class="w" x="1113" y="823" width="70" height="114"/><text class="t" x="1148" y="878">Cluster<tspan x="1148" dy="12">Analysis</tspan></text></g>
<g id="sentiment"><rect class="w" x="1113" y="945" width="70" height="114"/><text class="t" x="1148" y="994">Sentiment<tspan x="1148" dy="12">Analysis &amp;</tspan><tspan x="1148" dy="12">Listening</tspan></text></g>
</g>
</g>

<g id="analytics">
<rect x="1210" y="31" width="183" height="779" fill="#00b0f0"/>
<text class="b" x="1302" y="50">Analytics</text>
<g id="an-consumer"><rect class="f" x="1217.5" y="69.5" width="169" height="175"/><text class="s" x="1302" y="87">Consumer</text>
<g id="market-insight"><rect class="w" x="1226" y="99" width="152" height="29"/><text class="t" x="1302" y="117.5">Market / Customer Insight</text></g>
<g id="social-insight"><rect class="w" x="1226" y="135" width="152" height="29"/><text class="t" x="1302" y="153.5">Consumer/Social Insight</text></g>
<g id="channel-analytics"><rect class="w" x="1226" y="171" width="152" height="29"/><text class="t" x="1302" y="189.5">Channel Analytics</text></g>
<g id="marketing-analytics"><rect class="w" x="1226" y="208" width="152" height="29"/><text class="t" x="1302" y="226.5">Marketing Analytics</text></g>
</g>
<g id="an-customer"><rect class="f" x="1217.5" y="253.5" width="169" height="168"/><text class="s" x="1302" y="270">Customer</text>
<g id="sales-analytics"><rect class="w" x="1226" y="278" width="71" height="40"/><text class="t" x="1261.5" y="296">Sales<tspan x="1261.5" dy="12">Analytics</tspan></text></g>
<g id="merch-analytics"><rect class="w" x="1307" y="278" width="71" height="40"/><text class="t" x="1342.5" y="296">Merchandizing<tspan x="1342.5" dy="12">Analytics</tspan></text></g>
<g id="brand-profit"><rect class="w" x="1226" y="323" width="71" height="45"/><text class="t" x="1261.5" y="330">Brand /<tspan x="1261.5" dy="12">Category</tspan><tspan x="1261.5" dy="12">Profitability</tspan><tspan x="1261.5" dy="12">Analytics</tspan></text></g>
<g id="trade-eval"><rect class="w" x="1307" y="323" width="71" height="45"/><text class="t" x="1342.5" y="330">Trade<tspan x="1342.5" dy="12">Promotion</tspan><tspan x="1342.5" dy="12">Evaluation &amp;</tspan><tspan x="1342.5" dy="12">Opt.</tspan></text></g>
<g id="dci"><rect class="w" x="1226" y="373" width="71" height="40"/><text class="t" x="1261.5" y="384">Distributor<tspan x="1261.5" dy="12">Channel Insight</tspan><tspan x="1261.5" dy="12">(DCI)</tspan></text></g>
<g id="retail-analytics"><rect class="w" x="1307" y="373" width="71" height="40"/><text class="t" x="1342.5" y="385">Retail<tspan x="1342.5" dy="12">Execution</tspan><tspan x="1342.5" dy="12">Analytics</tspan></text></g>
</g>
<g id="an-product"><rect class="f" x="1217.5" y="430.5" width="169" height="81"/><text class="s" x="1302" y="447">Product &amp; Service</text>
<g id="rd-analytics"><rect class="w" x="1226" y="456" width="71" height="47"/><text class="t" x="1261.5" y="471.5">Research &amp;<tspan x="1261.5" dy="12">Development</tspan><tspan x="1261.5" dy="12">Analytics</tspan></text></g>
<g id="lifecycle-analytics"><rect class="w" x="1307" y="456" width="71" height="47"/><text class="t" x="1342.5" y="465">Product &amp;<tspan x="1342.5" dy="12">Service</tspan><tspan x="1342.5" dy="12">Lifecycle Mgmt.</tspan><tspan x="1342.5" dy="12">Analytics</tspan></text></g>
</g>
<g id="an-bf"><rect class="f" x="1217.5" y="518.5" width="169" height="120"/><text class="s" x="1302" y="533">Business  Foundation</text>
<g id="it-analytics"><rect class="w" x="1226" y="544" width="152" height="27"/><text class="t" x="1302" y="561.5">IT Management Analytics</text></g>
<g id="fin-analytics"><rect class="w" x="1226" y="575" width="152" height="27"/><text class="t" x="1302" y="592.5">Financial Controlling &amp; Reporting</text></g>
<g id="hr-analytics"><rect class="w" x="1226" y="606" width="152" height="27"/><text class="t" x="1302" y="623.5">HR Analytics</text></g>
</g>
<g id="an-sc"><rect class="f" x="1217.5" y="647.5" width="169" height="156"/><text class="s" x="1302" y="661">Supply Chain &amp;  Manufacturing</text>
<g id="sourcing-analytics"><rect class="w" x="1226" y="673" width="71" height="39"/><text class="t" x="1261.5" y="684.5">Sourcing &amp;<tspan x="1261.5" dy="12">Procurement</tspan><tspan x="1261.5" dy="12">Analytics</tspan></text></g>
<g id="mfg-analytics"><rect class="w" x="1307" y="673" width="71" height="39"/><text class="t" x="1342.5" y="690.5">Manufacturing<tspan x="1342.5" dy="12">Analytics</tspan></text></g>
<g id="sustain-analytics"><rect class="w" x="1226" y="715" width="71" height="39"/><text class="t" x="1261.5" y="732.5">Sustainability<tspan x="1261.5" dy="12">Analytics</tspan></text></g>
<g id="fulfill-analytics"><rect class="w" x="1307" y="715" width="71" height="39"/><text class="t" x="1342.5" y="732.5">Fulfillment<tspan x="1342.5" dy="12">Analytics</tspan></text></g>
<g id="forecast-analytics"><rect class="w" x="1226" y="759" width="152" height="39"/><text class="t" x="1302" y="776.5">Forecasting &amp;<tspan x="1302" dy="12">Replenishment Analytics</tspan></text></g>
</g>
</g>

<g id="data-mgmt">
<rect x="1210" y="813" width="183" height="270" fill="#00b0f0"/>
<text class="b" x="1302" y="830">Data Mgmt.</text>
<g id="ent-data"><rect class="f" x="1217.5" y="846.5" width="169" height="224"/><text class="s" x="1302" y="864">Ent. Data Mgmt.</text>
<g id="data-strategy"><rect class="w" x="1226" y="878" width="152" height="27"/><text class="t" x="1302" y="895.5">Data Strategy</text></g>
<g id="data-architecture"><rect class="w" x="1226" y="910" width="152" height="27"/><text class="t" x="1302" y="927.5">Data Architecture</text></g>
<g id="data-security"><rect class="w" x="1226" y="942" width="152" height="27"/><text class="t" x="1302" y="959.5">Data Security</text></g>
<g id="data-governance"><rect class="w" x="1226" y="974" width="152" height="27"/><text class="t" x="1302" y="991.5">Data Governance</text></g>
<g id="data-management"><rect class="w" x="1226" y="1006" width="152" height="27"/><text class="t" x="1302" y="1023.5">Data Management</text></g>
<g id="data-quality"><rect class="w" x="1226" y="1038" width="152" height="27"/><text class="t" x="1302" y="1055.5">Data Quality Management</text></g>
</g>
</g>
</svg>
